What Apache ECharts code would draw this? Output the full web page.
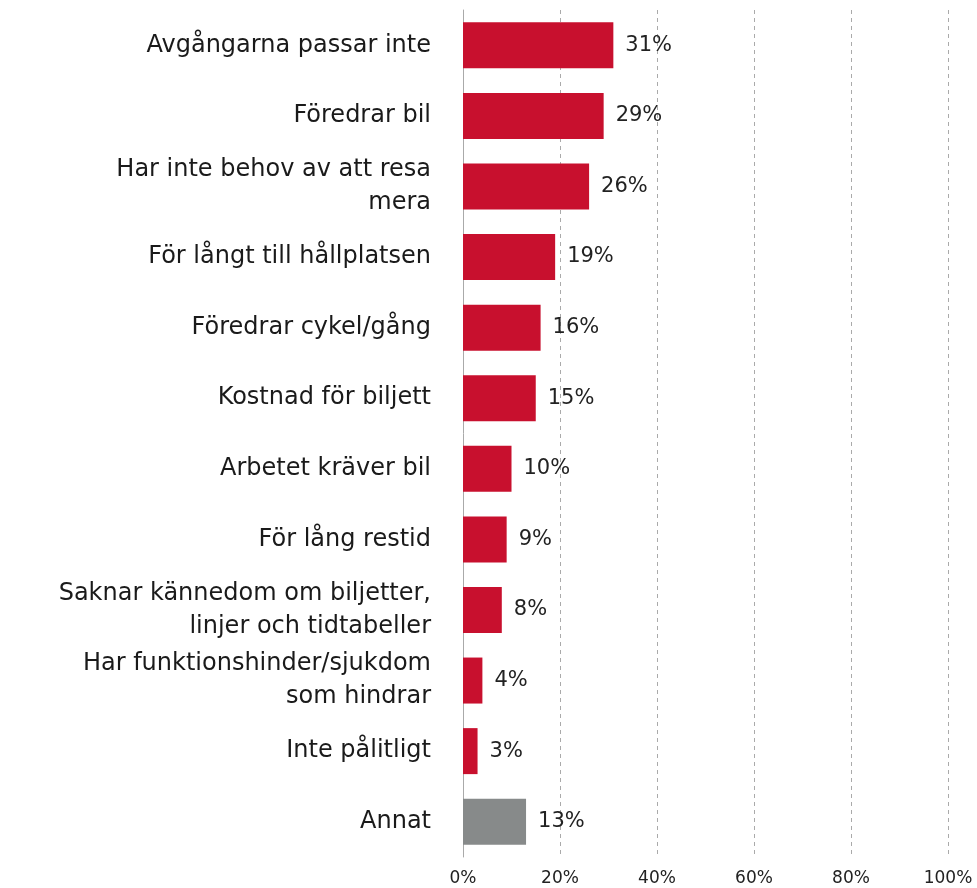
<!DOCTYPE html>
<html>
<head>
<meta charset="utf-8">
<script src="https://cdn.jsdelivr.net/npm/echarts@6/dist/echarts.min.js"></script>
<style>
  html, body { margin: 0; padding: 0; background: #fff; }
  #chart { width: 977px; height: 888px; }
</style>
</head>
<body>
<div id="chart"></div>
<script>
// categories top to bottom
const categories = [
  'Avgångarna passar inte',
  'Föredrar bil',
  'Har inte behov av att resa\nmera',
  'För långt till hållplatsen',
  'Föredrar cykel/gång',
  'Kostnad för biljett',
  'Arbetet kräver bil',
  'För lång restid',
  'Saknar kännedom om biljetter,\nlinjer och tidtabeller',
  'Har funktionshinder/sjukdom\nsom hindrar',
  'Inte pålitligt',
  'Annat'
];
const shares = [31, 29, 26, 19, 16, 15, 10, 9, 8, 4, 3, 13];
const otherCategory = 'Annat';

const red = '#c8102e';
const grey = '#878a8a';

const chart = echarts.init(document.getElementById('chart'));

const option = {
  animation: false,
  textStyle: { fontFamily: 'DejaVu Sans, Verdana, sans-serif' },
  grid: { left: 463, right: 29, top: 10, bottom: 31 },
  xAxis: {
    type: 'value',
    min: 0,
    max: 100,
    interval: 20,
    axisLine: { show: false },
    axisTick: { show: false },
    axisLabel: {
      formatter: '{value}%',
      fontSize: 17,
      color: '#222',
      margin: 13
    },
    splitLine: {
      lineStyle: { type: [4, 4], color: '#aaa', width: 1 }
    }
  },
  yAxis: {
    type: 'category',
    inverse: true,
    data: categories,
    axisLine: { show: true, lineStyle: { color: '#aaa', width: 1 } },
    axisTick: { show: false },
    axisLabel: {
      fontSize: 24,
      color: '#1a1a1a',
      margin: 32,
      lineHeight: 33,
      align: 'right'
    }
  },
  series: [{
    type: 'bar',
    data: shares.map((v, i) => ({
      value: v,
      itemStyle: { color: categories[i] === otherCategory ? grey : red }
    })),
    barWidth: 46,
    label: {
      show: true,
      position: 'right',
      distance: 12,
      formatter: '{c}%',
      fontSize: 21,
      color: '#222'
    }
  }]
};

chart.setOption(option);
</script>
</body>
</html>
